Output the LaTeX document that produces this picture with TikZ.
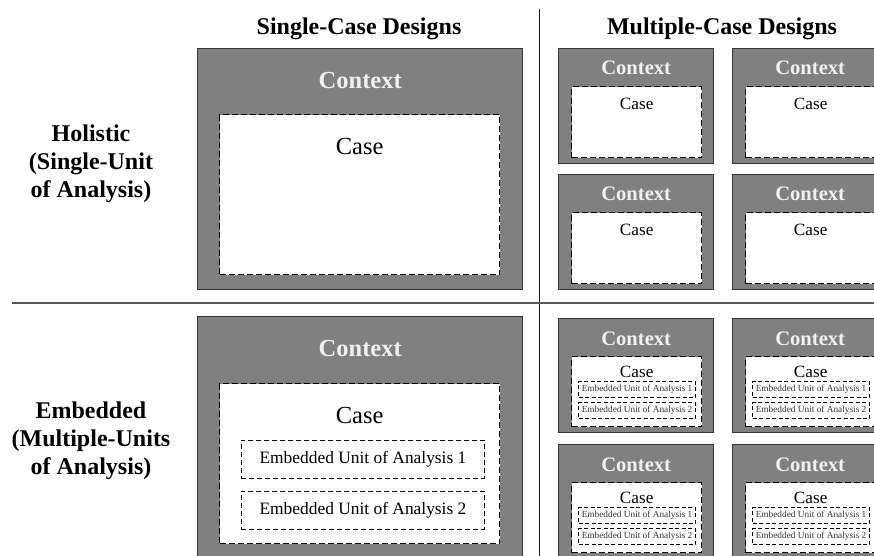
\documentclass[tikz,border=0pt]{standalone}
\usepackage{fontspec}
\setmainfont{Liberation Serif}

% one small holistic case: name, left, top
\newcommand\smallholistic[3]{%
  \node[ctxbox, anchor=north west, minimum width=155pt, minimum height=115pt] (#1) at (#2,#3) {};
  \node[ctxsmall] (#1-ctx) at ([yshift=-26pt]#1.north) {Context};
  \node[casebox, anchor=north west, minimum width=130pt, minimum height=71pt] (#1-case) at ([xshift=13pt,yshift=-38pt]#1.north west) {};
  \node[casesmall] (#1-lbl) at ([yshift=-23pt]#1-case.north) {Case};
}

% one small embedded case: name, left, top
\newcommand\smallembedded[3]{%
  \node[ctxbox, anchor=north west, minimum width=155pt, minimum height=114pt] (#1) at (#2,#3) {};
  \node[ctxsmall] (#1-ctx) at ([yshift=-27pt]#1.north) {Context};
  \node[casebox, anchor=north west, minimum width=130pt, minimum height=70pt] (#1-case) at ([xshift=13pt,yshift=-38pt]#1.north west) {};
  \node[casesmall] (#1-lbl) at ([yshift=-21pt]#1-case.north) {Case};
  \node[unitsmall, anchor=north west] (#1-u1) at ([xshift=7pt,yshift=-25pt]#1-case.north west) {Embedded Unit of Analysis 1};
  \node[unitsmall, anchor=north west] (#1-u2) at ([xshift=7pt,yshift=-46pt]#1-case.north west) {Embedded Unit of Analysis 2};
}

\begin{document}
\begin{tikzpicture}[x=1pt,y=-1pt,
  ctxbox/.style={draw=black!78, fill=black!50, line width=1.4pt, inner sep=0pt},
  casebox/.style={draw=black, fill=white, line width=1.4pt, dash pattern=on 6pt off 3pt, inner sep=0pt},
  unitbig/.style={draw=black, line width=0.9pt, dash pattern=on 5pt off 3pt, inner sep=0pt,
    minimum width=243pt, minimum height=38pt, font=\fontsize{17.4}{20}\selectfont},
  unitsmall/.style={draw=black, line width=1.1pt, dash pattern=on 4pt off 2.5pt, inner sep=0pt,
    minimum width=117pt, minimum height=16pt, font=\fontsize{9.3}{11}\selectfont, text=black!80},
  head/.style={font=\fontsize{24}{28}\selectfont\bfseries, anchor=base},
  rowlabel/.style={font=\fontsize{24}{28}\selectfont\bfseries, align=center},
  ctxbig/.style={font=\fontsize{24.5}{28}\selectfont\bfseries, text=white!94!black, anchor=base},
  ctxsmall/.style={font=\fontsize{20.6}{24}\selectfont\bfseries, text=white!94!black, anchor=base},
  casebig/.style={font=\fontsize{24.5}{28}\selectfont, anchor=base},
  casesmall/.style={font=\fontsize{17.2}{20}\selectfont, anchor=base},
]
\useasboundingbox (0,0) rectangle (874,555);

% column headings
\node[head] (hsingle) at (359,34) {Single-Case Designs};
\node[head] (hmulti) at (722,34) {Multiple-Case Designs};

% row headings
\node[rowlabel] (rholistic) at (91,164) {Holistic\\(Single-Unit\\of Analysis)};
\node[rowlabel] (rembedded) at (91,441) {Embedded\\(Multiple-Units\\of Analysis)};

% dividers
\coordinate (vtop) at (539,9);
\coordinate (vbot) at (539,556);
\coordinate (hleft) at (12,303);
\coordinate (hright) at (875,303);
\draw[line width=1pt, black!90] (vtop) -- (vbot);
\draw[line width=1.4pt, black!65] (hleft) -- (hright);

% single-case holistic
\node[ctxbox, anchor=north west, minimum width=325pt, minimum height=241pt] (sh) at (197,48) {};
\node[ctxbig] (sh-ctx) at ([yshift=-40pt]sh.north) {Context};
\node[casebox, anchor=north west, minimum width=280pt, minimum height=160pt] (sh-case) at (219,114) {};
\node[casebig] (sh-lbl) at ([yshift=-40pt]sh-case.north) {Case};

% single-case embedded
\node[ctxbox, anchor=north west, minimum width=325pt, minimum height=242pt] (se) at (197,316) {};
\node[ctxbig] (se-ctx) at ([yshift=-40pt]se.north) {Context};
\node[casebox, anchor=north west, minimum width=280pt, minimum height=160pt] (se-case) at (219,383) {};
\node[casebig] (se-lbl) at ([yshift=-40pt]se-case.north) {Case};
\node[unitbig, anchor=north west] (se-u1) at (241,440) {Embedded Unit of Analysis 1};
\node[unitbig, anchor=north west] (se-u2) at (241,491) {Embedded Unit of Analysis 2};

% multiple-case holistic
\smallholistic{mh1}{558}{48}
\smallholistic{mh2}{732}{48}
\smallholistic{mh3}{558}{174}
\smallholistic{mh4}{732}{174}

% multiple-case embedded
\smallembedded{me1}{558}{318}
\smallembedded{me2}{732}{318}
\smallembedded{me3}{558}{444}
\smallembedded{me4}{732}{444}
\end{tikzpicture}
\end{document}
